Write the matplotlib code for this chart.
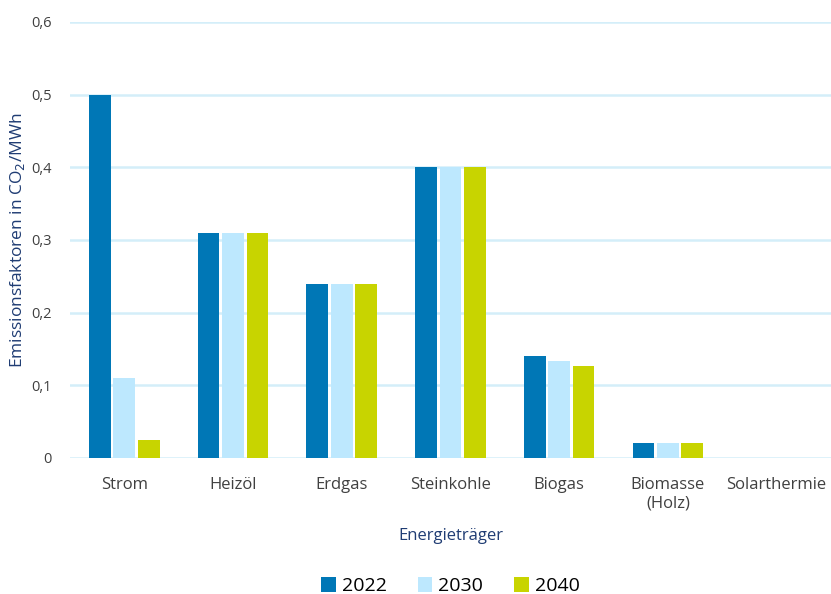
import numpy as np
import matplotlib.pyplot as plt

categories = ["Strom", "Heizöl", "Erdgas", "Steinkohle", "Biogas", "Biomasse\n(Holz)", "Solarthermie"]
years = ["2022", "2030", "2040"]
v2022 = [0.5, 0.31, 0.24, 0.40, 0.14, 0.02, 0.0]
v2030 = [0.11, 0.31, 0.24, 0.40, 0.133, 0.02, 0.0]
v2040 = [0.025, 0.31, 0.24, 0.40, 0.127, 0.02, 0.0]
colors = ["#0077B6", "#BDE8FE", "#C8D400"]

plt.rcParams['font.family'] = ['Open Sans', 'DejaVu Sans']

fig = plt.figure(figsize=(8.31, 5.94), dpi=100)
ax = fig.add_axes([0.084, 0.229, 0.916, 0.734])

x = np.arange(len(categories))
w = 0.2
for i, (vals, yr) in enumerate(zip([v2022, v2030, v2040], years)):
    ax.bar(x + (i - 1) * 0.225, vals, width=w, color=colors[i], label=yr, zorder=3)

ax.set_xlim(-0.5, len(categories) - 0.5)
ax.set_ylim(0, 0.6)
ax.set_yticks([0, 0.1, 0.2, 0.3, 0.4, 0.5, 0.6])
ax.set_yticklabels(["0", "0,1", "0,2", "0,3", "0,4", "0,5", "0,6"])
ax.set_xticks(x)
ax.set_xticklabels(categories)
ax.tick_params(length=0, colors="#404040", labelsize=12)
ax.tick_params(axis='y', pad=13, labelsize=10.5)
ax.tick_params(axis='x', pad=14)
ax.grid(axis='y', color="#D4EEF9", linewidth=1.8, zorder=0)
for s in ax.spines.values():
    s.set_visible(False)

ax.set_xlabel("Energieträger", color="#1F3C73", fontsize=12, labelpad=12)
ax.set_ylabel("Emissionsfaktoren in CO$_2$/MWh", color="#1F3C73", fontsize=12.5, labelpad=3)

ax.legend(loc="lower center", bbox_to_anchor=(0.5, -0.355), ncol=3, frameon=False,
          fontsize=14, handlelength=0.75, handleheight=0.75, handletextpad=0.3, columnspacing=1.6)

fig.savefig("out.png", dpi=100)
